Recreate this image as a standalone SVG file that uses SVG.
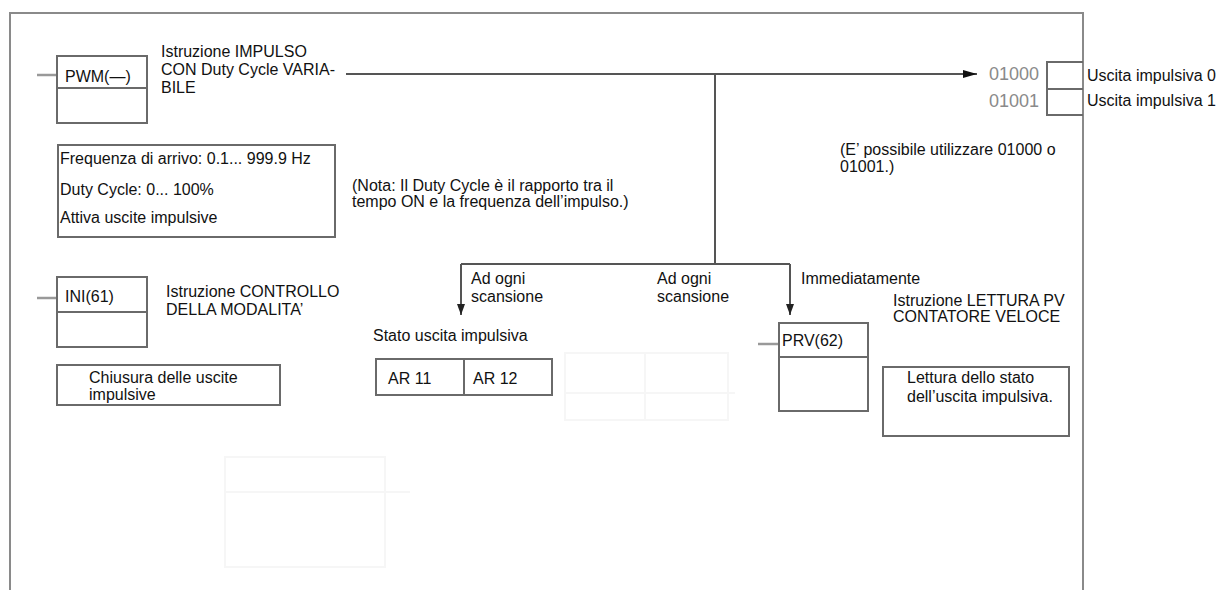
<svg xmlns="http://www.w3.org/2000/svg" width="1220" height="590" viewBox="0 0 1220 590">
<style>
text { font-family: "Liberation Sans", Arial, sans-serif; font-size: 16px; fill: #111; }
.box { fill: #fff; stroke: #6a6a6a; stroke-width: 2; }
.div { stroke: #6a6a6a; stroke-width: 2; fill: none; }
.stub { stroke: #999; stroke-width: 2.5; fill: none; }
.conn { stroke: #555; stroke-width: 2; fill: none; }
.frame { stroke: #8a8a8a; stroke-width: 2; fill: none; }
.ghost { stroke: #f6f6f6; stroke-width: 2; fill: none; }
.addr { font-size: 18px; fill: #8a8a8a; }
</style>
<defs>
<marker id="arr" markerUnits="userSpaceOnUse" markerWidth="14" markerHeight="8" refX="14" refY="4" orient="auto">
<path d="M0,0 L14,4 L0,8 z" fill="#111"/>
</marker>
<marker id="arrd" markerUnits="userSpaceOnUse" markerWidth="11" markerHeight="8" refX="11" refY="4" orient="auto">
<path d="M0,0 L11,4 L0,8 z" fill="#222"/>
</marker>
</defs>
<rect width="1220" height="590" fill="#fff"/>
<path class="frame" d="M10,590 V13 H1083 V590"/>
<g id="ghosts">
<rect class="ghost" x="565" y="353" width="163" height="67"/>
<path class="ghost" d="M645,353 V420 M565,393 H735"/>
<rect class="ghost" x="225" y="457" width="160" height="110"/>
<path class="ghost" d="M225,492 H410"/>
</g>
<g id="connectors">
<path class="conn" d="M346,74 H977" marker-end="url(#arr)"/>
<path class="conn" d="M715,74 V264"/>
<path class="conn" d="M461,264 H790"/>
<path class="conn" d="M461,264 V315" marker-end="url(#arrd)"/>
<path class="conn" d="M790,264 V315" marker-end="url(#arrd)"/>
</g>
<g id="pwm">
<path class="stub" d="M37,75 H57"/>
<rect class="box" x="57" y="56" width="90" height="67"/>
<path class="div" d="M57,88 H147"/>
<text x="65" y="82">PWM(—)</text>
<text x="161" y="57">Istruzione IMPULSO</text>
<text x="161" y="75">CON Duty Cycle VARIA-</text>
<text x="161" y="93">BILE</text>
</g>
<g id="pwm-params">
<rect class="box" x="58" y="145" width="277" height="92"/>
<text x="60" y="164">Frequenza di arrivo: 0.1... 999.9 Hz</text>
<text x="60" y="195">Duty Cycle: 0... 100%</text>
<text x="60" y="223">Attiva uscite impulsive</text>
</g>
<g id="nota">
<text x="352" y="191">(Nota: Il Duty Cycle è il rapporto tra il</text>
<text x="352" y="207">tempo ON e la frequenza dell’impulso.)</text>
</g>
<g id="outputs">
<text class="addr" x="989" y="80">01000</text>
<text class="addr" x="989" y="107">01001</text>
<path class="div" d="M1083,62 H1047 V115 H1083 M1047,89 H1083"/>
<text x="1087" y="81">Uscita impulsiva 0</text>
<text x="1087" y="106">Uscita impulsiva 1</text>
<text x="840" y="155">(E’ possibile utilizzare 01000 o</text>
<text x="840" y="172">01001.)</text>
</g>
<g id="ini">
<path class="stub" d="M37,298 H57"/>
<rect class="box" x="57" y="277" width="90" height="70"/>
<path class="div" d="M57,312 H147"/>
<text x="65" y="302">INI(61)</text>
<text x="166" y="297">Istruzione CONTROLLO</text>
<text x="166" y="315">DELLA MODALITA’</text>
</g>
<g id="chiusura">
<rect class="box" x="57" y="365" width="223" height="40"/>
<text x="89" y="383">Chiusura delle uscite</text>
<text x="89" y="400">impulsive</text>
</g>
<g id="labels">
<text x="471" y="284">Ad ogni</text>
<text x="471" y="302">scansione</text>
<text x="657" y="284">Ad ogni</text>
<text x="657" y="302">scansione</text>
<text x="801" y="284">Immediatamente</text>
</g>
<g id="ar">
<text x="373" y="341">Stato uscita impulsiva</text>
<rect class="box" x="376" y="359" width="176" height="36"/>
<path class="div" d="M464,359 V395"/>
<text x="388" y="384">AR 11</text>
<text x="473" y="384">AR 12</text>
</g>
<g id="prv">
<text x="893" y="306">Istruzione LETTURA PV</text>
<text x="893" y="322">CONTATORE VELOCE</text>
<path class="stub" d="M758,344 H779"/>
<rect class="box" x="779" y="323" width="89" height="88"/>
<path class="div" d="M779,357 H868"/>
<text x="782" y="346">PRV(62)</text>
</g>
<g id="lettura">
<rect class="box" x="883" y="367" width="186" height="69"/>
<text x="907" y="383">Lettura dello stato</text>
<text x="907" y="402">dell’uscita impulsiva.</text>
</g>
</svg>
